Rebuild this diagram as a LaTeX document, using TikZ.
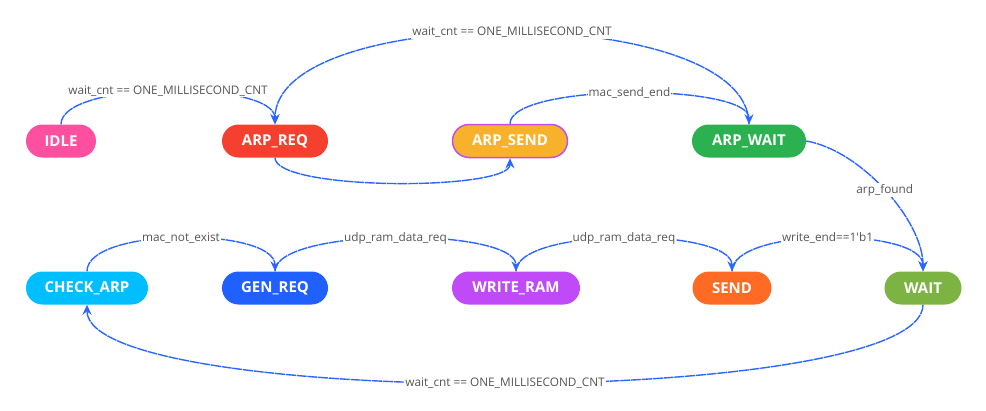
\documentclass[tikz,border=0pt]{standalone}
\usepackage{fontspec}
\setmainfont{Open Sans}
\newfontfamily\lblfont{Open Sans}[Ligatures=ResetAll]
\usetikzlibrary{arrows.meta}
\definecolor{edgeblue}{HTML}{2A66FF}
\definecolor{lblgray}{HTML}{555555}
\definecolor{idlepink}{HTML}{FF4FA0}
\definecolor{reqred}{HTML}{F5402F}
\definecolor{sendyellow}{HTML}{F7B12A}
\definecolor{sendborder}{HTML}{C050F0}
\definecolor{waitgreen}{HTML}{2BB150}
\definecolor{checkcyan}{HTML}{00BEFF}
\definecolor{genblue}{HTML}{1F60FF}
\definecolor{ramviolet}{HTML}{C04AF8}
\definecolor{sendorange}{HTML}{FF6B24}
\definecolor{waitolive}{HTML}{7CB342}
\begin{document}
\begin{tikzpicture}[x=1pt,y=-1pt,
    fsm/.style={rectangle,rounded corners=16.5pt,minimum height=33pt,inner sep=0pt,
        text=white,font=\fontsize{15}{17}\selectfont\bfseries},
    trans/.style={edgeblue,line width=1.4pt,dash pattern=on 10pt off 0.8pt,
        -{Stealth[length=10pt,width=9pt]}},
    lbl/.style={fill=white,inner sep=1pt,text=lblgray,font=\lblfont\fontsize{11.8}{14}\selectfont}]
    \useasboundingbox (0,0) rectangle (986,410);
    % top row
    \node[fsm,fill=idlepink,minimum width=70pt] (idle) at (61,141) {IDLE};
    \node[fsm,fill=reqred,minimum width=106pt] (arpreq) at (275,141) {ARP\_REQ};
    \node[fsm,fill=sendyellow,draw=sendborder,line width=1.5pt,minimum width=115pt] (arpsend) at (510,141) {ARP\_SEND};
    \node[fsm,fill=waitgreen,minimum width=114pt] (arpwait) at (749,141) {ARP\_WAIT};
    % bottom row
    \node[fsm,fill=checkcyan,minimum width=122pt] (checkarp) at (87,288) {CHECK\_ARP};
    \node[fsm,fill=genblue,minimum width=106pt] (genreq) at (275,288) {GEN\_REQ};
    \node[fsm,fill=ramviolet,minimum width=128pt] (writeram) at (516,288) {WRITE\_RAM};
    \node[fsm,fill=sendorange,minimum width=79pt] (send) at (732,288) {SEND};
    \node[fsm,fill=waitolive,minimum width=77pt] (wait) at (923,288) {WAIT};
    % transitions
    \draw[trans] (idle.north) .. controls (61,80) and (275,80) .. node[lbl]{wait\_cnt == ONE\_MILLISECOND\_CNT} (arpreq.north);
    \draw[trans] (arpwait.north) .. controls (749,2) and (275,2) .. node[lbl]{wait\_cnt == ONE\_MILLISECOND\_CNT} (arpreq.north);
    \draw[trans] (arpreq.south) .. controls (275,191) and (510,191) .. (arpsend.south);
    \draw[trans] (arpsend.north) .. controls (510,83) and (749,83) .. node[lbl]{mac\_send\_end} (arpwait.north);
    \draw[trans] (arpwait.east) .. controls (860,150) and (923,220) .. node[lbl]{arp\_found} (wait.north);
    \draw[trans] (checkarp.north) .. controls (87,227) and (275,227) .. node[lbl]{mac\_not\_exist} (genreq.north);
    \draw[trans] (genreq.north) .. controls (275,227) and (516,227) .. node[lbl]{udp\_ram\_data\_req} (writeram.north);
    \draw[trans] (writeram.north) .. controls (516,227) and (732,227) .. node[lbl]{udp\_ram\_data\_req} (send.north);
    \draw[trans] (send.north) .. controls (732,227) and (923,227) .. node[lbl]{write\_end==1'b1} (wait.north);
    \draw[trans] (wait.south) .. controls (923,409) and (87,409) .. node[lbl]{wait\_cnt == ONE\_MILLISECOND\_CNT} (checkarp.south);
\end{tikzpicture}
\end{document}
